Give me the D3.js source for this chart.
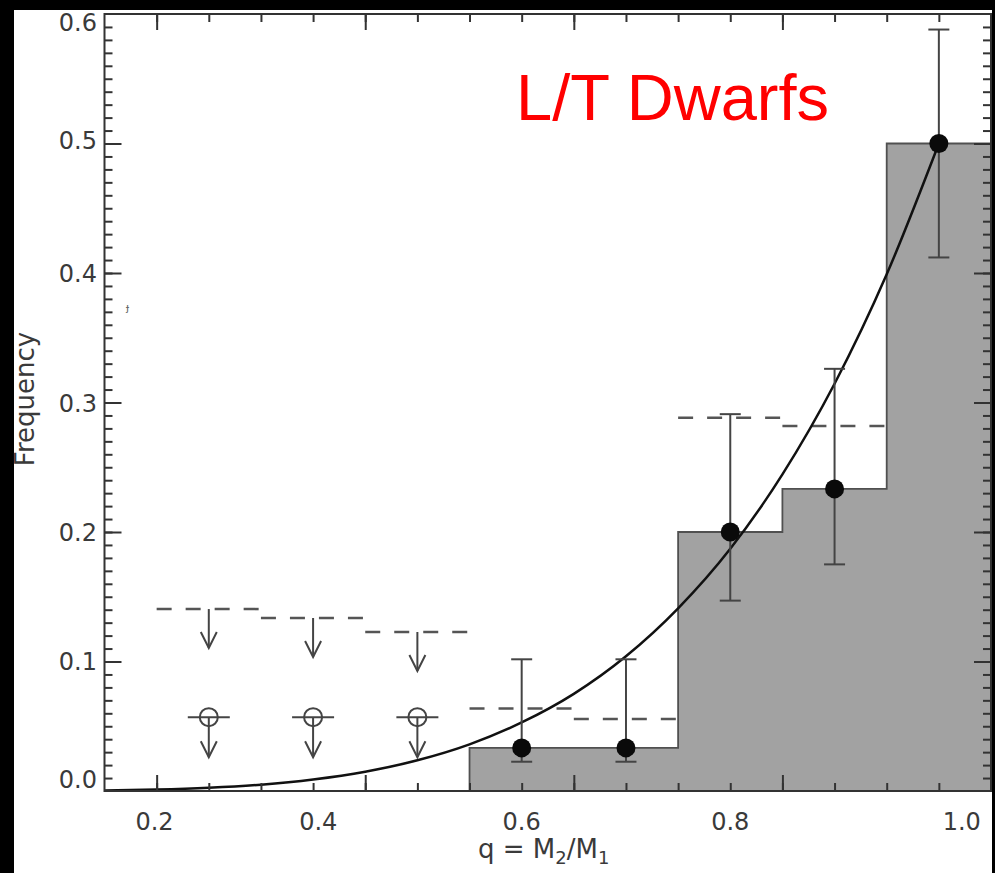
<!DOCTYPE html>
<html>
<head>
<meta charset="utf-8">
<script src="https://cdn.jsdelivr.net/npm/d3@7"></script>
<style>
	body { margin: 0; background: #000; }
	svg { display: block; }
</style>
</head>
<body>
<script>

// Mass ratio distribution, L/T dwarf binaries

var
	// histogram bins (gray), left edges + heights, last bin closes at 1.05
	barLo = [0.55, 0.65, 0.75, 0.85, 0.95],
	barEnd = 1.05,
	barFreq = [0.0333, 0.0333, 0.2, 0.2333, 0.5],

	// filled points with error bars
	pointQ = [0.6, 0.7, 0.8, 0.9, 1.0],
	pointFreq = [0.0333, 0.0333, 0.2, 0.2333, 0.5],
	errLow = [0.0226, 0.0226, 0.147, 0.175, 0.412],
	errHigh = [0.1017, 0.1017, 0.291, 0.326, 0.588],

	// dashed levels
	dashLo = [0.55, 0.65, 0.75, 0.85],
	dashHi = [0.65, 0.75, 0.85, 0.95],
	dashFreq = [0.0638, 0.0556, 0.2883, 0.2819],

	// upper limits
	limitQ = [0.3, 0.4, 0.5],
	limitFreq = [0.1405, 0.1336, 0.1228],
	openFreq = [0.057, 0.057, 0.057],

	// fitted curve
	curveQ = [0.2, 0.25, 0.3, 0.35, 0.4, 0.45, 0.5, 0.55, 0.6, 0.65, 0.7, 0.75, 0.8, 0.85, 0.9, 0.95, 1.0],
	curveFreq = [0.0004, 0.0011, 0.0025, 0.0049, 0.0089, 0.0149, 0.0237, 0.036, 0.0529, 0.075, 0.104, 0.141, 0.187, 0.2445, 0.3145, 0.399, 0.5],

	// tick labels and where they sit
	xLabels = ['0.2', '0.4', '0.6', '0.8', '1.0'],
	xLabelAt = [0.248, 0.405, 0.6, 0.8, 1.022],
	yLabels = ['0.0', '0.1', '0.2', '0.3', '0.4', '0.5', '0.6'],
	yLabelAt = [0.0093, 0.1004, 0.2, 0.2996, 0.4, 0.5027, 0.5938],

	xMajor = [0.25, 0.45, 0.65, 0.85],
	xMinor = d3.range(5, 21).map(function(d) {return d*0.05;}),
	yMajor = [0.1, 0.2, 0.3, 0.4, 0.5],
	yMinor = d3.range(1, 60).map(function(d) {return d/100;});

var
	W = 995, H = 873,
	plotL = 104.5, plotR = 991, plotT = 14, plotB = 791,

	x = d3.scaleLinear().domain([0.2, 1.05]).range([plotL, plotR]),
	y = d3.scaleLinear().domain([0, 0.6]).range([plotB, plotT]),

	svg = d3.select('body').append('svg')
		.attr('width', W)
		.attr('height', H);

svg.append('rect')
	.attr('width', W).attr('height', H)
	.style('fill', '#000');

svg.append('rect')
	.attr('x', 14).attr('y', 10)
	.attr('width', 978).attr('height', H - 10)
	.style('fill', '#fff');

// Histogram as one stepped outline

var steps = barLo.map(function(d, i) {return [d, barFreq[i]];});
steps.push([barEnd, barFreq[barFreq.length - 1]]);

svg.append('path')
	.datum(steps)
	.attr('d', d3.area()
		.x(function(d) {return x(d[0]);})
		.y0(y(0))
		.y1(function(d) {return y(d[1]);})
		.curve(d3.curveStepAfter))
	.style('fill', '#a2a2a2')
	.style('stroke', '#505050')
	.style('stroke-width', 1.8);

// Dashed levels

var dashed = dashLo.map(function(d, i) {return {lo: d, hi: dashHi[i], f: dashFreq[i]};})
	.concat(limitQ.map(function(d, i) {return {lo: d - 0.05, hi: d + 0.05, f: limitFreq[i]};}));

svg.append('g').selectAll('line')
	.data(dashed)
	.enter()
	.append('line')
	.attr('x1', function(d) {return x(d.lo);})
	.attr('x2', function(d) {return x(d.hi);})
	.attr('y1', function(d) {return y(d.f);})
	.attr('y2', function(d) {return y(d.f);})
	.style('stroke', '#555')
	.style('stroke-width', 2.5)
	.style('stroke-dasharray', '15,14');

// Upper limit arrows

function arrow(g, cx, cy, len) {
	g.append('line')
		.attr('x1', cx).attr('x2', cx)
		.attr('y1', cy).attr('y2', cy + len);
	g.append('path')
		.attr('d', 'M' + (cx - 8) + ',' + (cy + len - 16) + 'L' + cx + ',' + (cy + len) + 'L' + (cx + 8) + ',' + (cy + len - 16))
		.style('fill', 'none');
}

var limits = svg.append('g')
	.style('stroke', '#444')
	.style('stroke-width', 2);

limitQ.forEach(function(q, i) {
	arrow(limits, x(q), y(limitFreq[i]), 39);
	arrow(limits, x(q), y(openFreq[i]), 40);
	limits.append('line')
		.attr('x1', x(q) - 21).attr('x2', x(q) + 21)
		.attr('y1', y(openFreq[i])).attr('y2', y(openFreq[i]));
	limits.append('circle')
		.attr('cx', x(q)).attr('cy', y(openFreq[i]))
		.attr('r', 9)
		.style('fill', 'none');
});

// Fitted curve

svg.append('path')
	.datum(curveQ)
	.attr('d', d3.line()
		.x(function(d) {return x(d);})
		.y(function(d, i) {return y(curveFreq[i]);})
		.curve(d3.curveMonotoneX))
	.style('fill', 'none')
	.style('stroke', '#111')
	.style('stroke-width', 2.5);

// Error bars

var errs = svg.append('g')
	.style('stroke', '#444')
	.style('stroke-width', 2);

errs.selectAll('line.v')
	.data(pointQ)
	.enter()
	.append('line')
	.attr('class', 'v')
	.attr('x1', function(d) {return x(d);})
	.attr('x2', function(d) {return x(d);})
	.attr('y1', function(d, i) {return y(errLow[i]);})
	.attr('y2', function(d, i) {return y(errHigh[i]);});

[errLow, errHigh].forEach(function(arr) {
	errs.append('g').selectAll('line')
		.data(pointQ)
		.enter()
		.append('line')
		.attr('x1', function(d) {return x(d) - 10.5;})
		.attr('x2', function(d) {return x(d) + 10.5;})
		.attr('y1', function(d, i) {return y(arr[i]);})
		.attr('y2', function(d, i) {return y(arr[i]);});
});

svg.append('g').selectAll('circle')
	.data(pointQ)
	.enter()
	.append('circle')
	.attr('cx', function(d) {return x(d);})
	.attr('cy', function(d, i) {return y(pointFreq[i]);})
	.attr('r', 9.5)
	.style('fill', '#0a0a0a');

// Axes: ticks point inwards on all four sides

function ticks(axis, values, size, tr) {
	svg.append('g')
		.attr('transform', tr)
		.call(axis.tickValues(values).tickSize(size).tickSizeOuter(0).tickFormat(''))
		.call(function(g) {g.select('.domain').remove();})
		.selectAll('line')
		.style('stroke', '#333')
		.style('stroke-width', 2);
}

ticks(d3.axisBottom(x), xMinor, -8, 'translate(0,' + plotB + ')');
ticks(d3.axisBottom(x), xMajor, -16, 'translate(0,' + plotB + ')');
ticks(d3.axisTop(x), xMinor, -8, 'translate(0,' + plotT + ')');
ticks(d3.axisTop(x), xMajor, -16, 'translate(0,' + plotT + ')');
ticks(d3.axisLeft(y), yMinor, -8, 'translate(' + plotL + ',0)');
ticks(d3.axisLeft(y), yMajor, -17, 'translate(' + plotL + ',0)');
ticks(d3.axisRight(y), yMinor, -8, 'translate(' + plotR + ',0)');
ticks(d3.axisRight(y), yMajor, -17, 'translate(' + plotR + ',0)');

svg.append('rect')
	.attr('x', plotL).attr('y', plotT)
	.attr('width', plotR - plotL).attr('height', plotB - plotT)
	.style('fill', 'none')
	.style('stroke', '#333')
	.style('stroke-width', 2);

// Labels

var labelFont = '"DejaVu Sans", sans-serif';

svg.append('g').selectAll('text')
	.data(xLabels)
	.enter()
	.append('text')
	.attr('x', function(d, i) {return x(xLabelAt[i]);})
	.attr('y', 830)
	.attr('text-anchor', 'middle')
	.style('font-family', labelFont)
	.style('font-size', '24px')
	.style('fill', '#3a3a3a')
	.text(function(d) {return d;});

svg.append('g').selectAll('text')
	.data(yLabels)
	.enter()
	.append('text')
	.attr('x', 97)
	.attr('y', function(d, i) {return y(yLabelAt[i]) + 9;})
	.attr('text-anchor', 'end')
	.style('font-family', labelFont)
	.style('font-size', '24px')
	.style('fill', '#3a3a3a')
	.text(function(d) {return d;});

var xtitle = svg.append('text')
	.attr('x', 478)
	.attr('y', 858)
	.style('font-family', labelFont)
	.style('font-size', '26px')
	.style('fill', '#3a3a3a');
xtitle.append('tspan').text('q = M');
xtitle.append('tspan').attr('dy', 6).style('font-size', '18px').text('2');
xtitle.append('tspan').attr('dy', -6).text('/M');
xtitle.append('tspan').attr('dy', 6).style('font-size', '18px').text('1');

svg.append('text')
	.attr('transform', 'translate(34,399) rotate(-90)')
	.attr('text-anchor', 'middle')
	.style('font-family', labelFont)
	.style('font-size', '26px')
	.style('fill', '#3a3a3a')
	.text('Frequency');

svg.append('text')
	.attr('x', 126)
	.attr('y', 311)
	.style('font-family', labelFont)
	.style('font-size', '11px')
	.style('fill', '#666')
	.text('ɟ');

svg.append('text')
	.attr('x', 516)
	.attr('y', 120)
	.style('font-family', '"Liberation Sans", Arial, sans-serif')
	.style('font-size', '65px')
	.style('fill', '#ff0000')
	.text('L/T Dwarfs');

</script>
</body>
</html>
